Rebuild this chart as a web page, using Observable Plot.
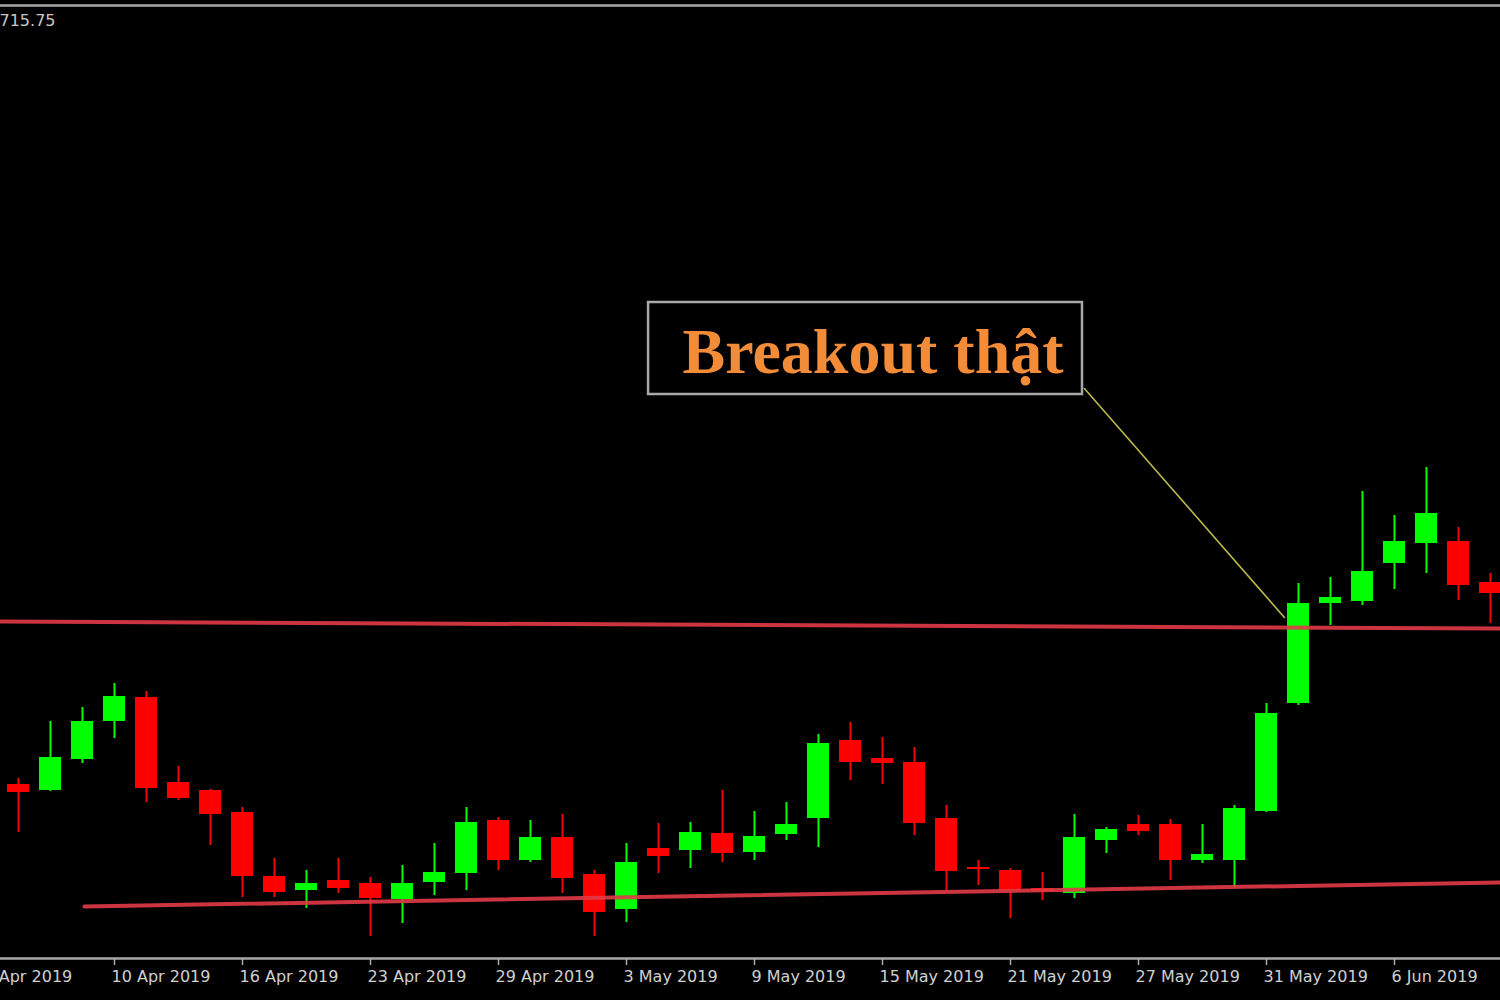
<!DOCTYPE html>
<html>
<head>
<meta charset="utf-8">
<script src="https://cdn.jsdelivr.net/npm/d3@7"></script>
<script src="https://cdn.jsdelivr.net/npm/@observablehq/plot@0.6"></script>
<style>
  html, body { margin: 0; padding: 0; background: #000; }
  #chart svg { display: block; }
</style>
</head>
<body>
<div id="chart"></div>
<script>
// ---- data (daily candles, 5 Apr 2019 – 11 Jun 2019) ----
const dates = ["5 Apr","8 Apr","9 Apr","10 Apr","11 Apr","12 Apr","15 Apr","16 Apr","17 Apr","18 Apr",
  "22 Apr","23 Apr","24 Apr","25 Apr","26 Apr","29 Apr","30 Apr","1 May","2 May","3 May",
  "6 May","7 May","8 May","9 May","10 May","13 May","14 May","15 May","16 May","17 May",
  "20 May","21 May","22 May","23 May","24 May","27 May","28 May","29 May","30 May","31 May",
  "3 Jun","4 Jun","5 Jun","6 Jun","7 Jun","10 Jun","11 Jun"];
const open  = [677.55,677.25,678.80,680.70,681.90,677.65,677.25,676.15,672.95,672.25,
  672.75,672.60,671.80,672.65,673.10,675.75,673.75,674.90,673.05,671.30,
  674.35,674.25,675.10,674.15,675.05,675.85,679.75,678.85,678.65,675.85,
  673.40,673.25,672.35,672.10,674.75,675.55,675.55,673.75,673.75,676.20,
  681.60,686.60,686.70,688.60,689.60,689.70,687.65];
const high  = [677.85,680.70,681.40,682.60,682.20,678.45,677.30,676.40,673.85,673.25,
  673.85,672.90,673.50,674.60,676.40,675.90,675.75,676.05,673.25,674.60,
  675.60,675.65,677.25,676.20,676.65,680.05,680.65,679.90,679.40,676.50,
  673.75,673.35,673.15,676.05,675.40,676.00,675.80,675.55,676.50,681.60,
  687.60,687.90,692.20,691.00,693.40,690.40,688.10];
const low   = [675.15,677.20,678.60,679.85,676.65,676.75,674.50,671.90,671.90,671.35,
  672.10,669.95,670.60,672.00,672.25,673.25,673.65,672.10,669.95,670.65,
  673.10,673.35,673.65,673.75,674.75,674.40,677.75,677.55,675.00,672.25,
  672.50,670.85,671.75,671.85,674.10,675.00,672.75,673.60,672.40,676.15,
  681.50,685.50,686.50,687.30,688.10,686.75,685.60];
const close = [677.15,678.90,680.70,681.95,677.35,676.85,676.05,672.95,672.15,672.60,
  672.35,671.85,672.60,673.15,675.65,673.75,674.90,672.85,671.15,673.65,
  673.95,675.15,674.10,674.95,675.55,679.60,678.65,678.60,675.60,673.20,
  673.30,672.25,672.20,674.90,675.30,675.20,673.75,674.05,676.35,681.10,
  686.60,686.90,688.20,689.70,691.10,687.50,687.10];

// x-axis ticks (every 4th session)
const tickLabels = ["4 Apr 2019","10 Apr 2019","16 Apr 2019","23 Apr 2019","29 Apr 2019","3 May 2019",
  "9 May 2019","15 May 2019","21 May 2019","27 May 2019","31 May 2019","6 Jun 2019"];
const tickIndex  = [-1,3,7,11,15,19,23,27,31,35,39,43];

// trend lines: [index, price] end points
const resistance = [[-0.5625, 685.70], [46.3125, 685.35]];
const support    = [[2.0625, 671.45], [46.3125, 672.65]];

// annotation
const noteText = "Breakout thật";
const noteBox = {x1: 19.69, x2: 33.25, y1: 697.05, y2: 701.65};
const noteLeader = [[33.31, 697.35], [39.56, 685.90]];
const topPriceLabel = "715.75";
const topPrice = 715.75;

const candles = dates.map((d, i) => ({i, date: d, o: open[i], h: high[i], l: low[i], c: close[i]}));
const up = d => d.c >= d.o;
const col = d => up(d) ? "#00ff00" : "#ff0000";
const half = 0.345;

const xMin = -0.5625, xMax = 46.3125;
const yMin = 666.75, yMax = 716.75;
const axisPrice = 668.85;
const tickEnd = 668.50;
const labelPrice = 667.95;
const framePrice = 716.50;

const chart = Plot.plot({
  width: 1500,
  height: 1000,
  margin: 0,
  style: {background: "#000", overflow: "hidden"},
  x: {domain: [xMin, xMax], axis: null},
  y: {domain: [yMin, yMax], axis: null},
  marks: [
    // frame top line
    Plot.ruleY([framePrice], {stroke: "#a8a8a8", strokeWidth: 2.5}),
    Plot.text([topPriceLabel], {x: xMin, y: topPrice, text: d => d, textAnchor: "start", dx: -1,
      fill: "#c8c8c8", fontSize: 16, fontFamily: "DejaVu Sans, sans-serif"}),
    // wicks
    Plot.ruleX(candles, {x: "i", y1: "l", y2: "h", stroke: col, strokeWidth: 2}),
    // bodies
    Plot.rect(candles, {x1: d => d.i - half, x2: d => d.i + half, y1: "o", y2: "c", fill: col}),
    // trend lines
    Plot.line(resistance, {x: d => d[0], y: d => d[1], stroke: "#e23a46", strokeWidth: 4, strokeOpacity: 0.9}),
    Plot.line(support, {x: d => d[0], y: d => d[1], stroke: "#e23a46", strokeWidth: 4, strokeOpacity: 0.9}),
    // annotation
    Plot.line(noteLeader, {x: d => d[0], y: d => d[1], stroke: "#bdb84a", strokeWidth: 1.6}),
    Plot.rect([noteBox], {x1: "x1", x2: "x2", y1: "y1", y2: "y2", fill: "#000", stroke: "#a8a8a8", strokeWidth: 2.5}),
    Plot.text([noteText], {x: 20.75, y: 699.15, text: d => d, textAnchor: "start",
      fill: "#f28c38", fontSize: 64, fontWeight: "bold", fontFamily: "Liberation Serif, DejaVu Serif, serif"}),
    // x axis
    Plot.ruleY([axisPrice], {stroke: "#a8a8a8", strokeWidth: 2.5}),
    Plot.ruleX(tickIndex, {x: d => d, y1: axisPrice, y2: tickEnd, stroke: "#a8a8a8", strokeWidth: 1.5}),
    Plot.text(tickIndex, {x: d => d, y: labelPrice, text: (d, k) => tickLabels[k], textAnchor: "start", dx: -3,
      fill: "#d0d0d0", fontSize: 16, fontFamily: "DejaVu Sans, sans-serif"})
  ]
});
document.getElementById("chart").appendChild(chart);
</script>
</body>
</html>
